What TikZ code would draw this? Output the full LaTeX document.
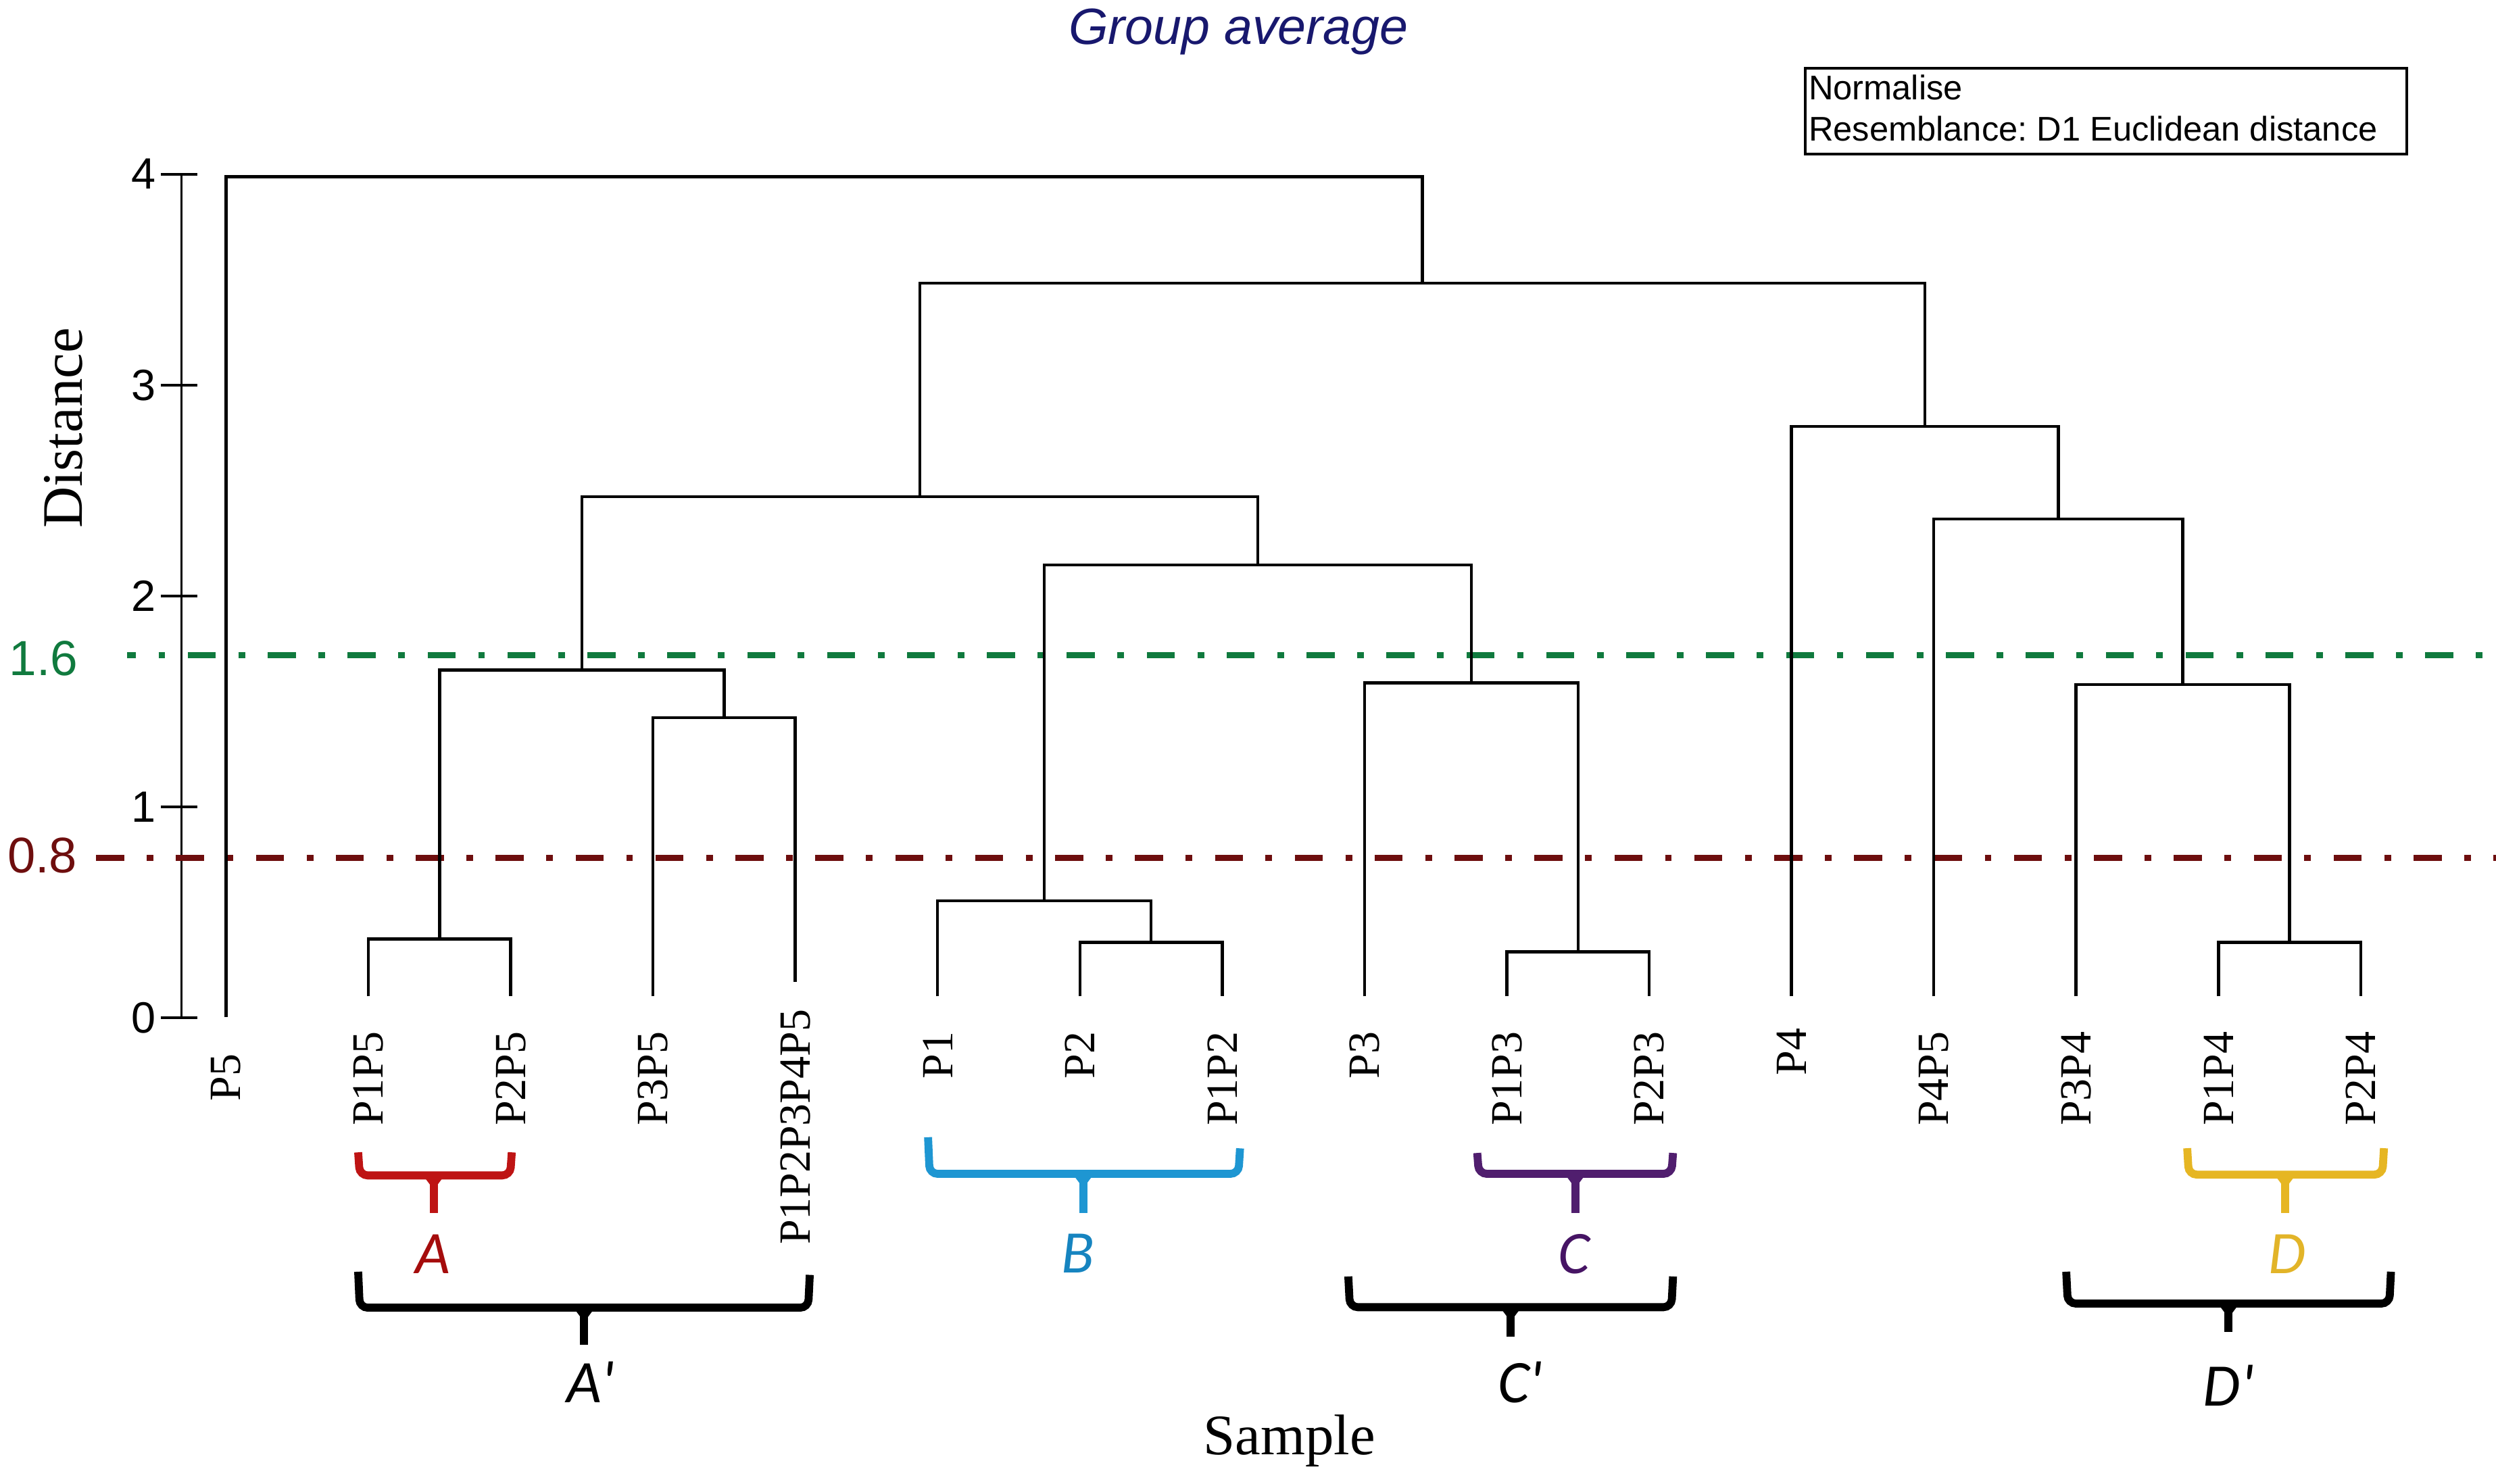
\documentclass[tikz,border=0pt]{standalone}
\usepackage{fontspec}
\setmainfont{Liberation Serif}
\newfontfamily\arialf{Liberation Sans}
\newfontfamily\calibf{Carlito}
\definecolor{navyt}{RGB}{24,24,110}
\definecolor{greenl}{RGB}{16,122,62}
\definecolor{maroonl}{RGB}{110,14,14}
\definecolor{bra}{RGB}{190,20,20}
\definecolor{brb}{RGB}{30,150,210}
\definecolor{brc}{RGB}{80,30,110}
\definecolor{brd}{RGB}{230,182,35}
\definecolor{laba}{RGB}{165,12,12}
\definecolor{labb}{RGB}{22,132,192}
\definecolor{labc}{RGB}{70,20,100}
\definecolor{labd}{RGB}{226,180,40}
\frenchspacing
\newcommand{\mybrace}[8]{%
  \draw[brace,#8,rounded corners=5pt] (#1,#2) -- (#1+1,#6) -- (#3-1,#6) -- (#3,#4);
  \draw[brace,#8] (#5,#6) -- (#5,#7);
  \fill[#8] (#5-6,#6+1) -- (#5+6,#6+1) -- (#5,#6+9) -- cycle;%
}
\begin{document}
\begin{tikzpicture}[x=1pt,y=-1pt,
  dend/.style={line width=1.9pt},
  axisl/.style={line width=1.6pt},
  brace/.style={line width=5pt},
  ticklab/.style={anchor=east,inner sep=0pt,font=\arialf\fontsize{27.5}{27.5}\selectfont},
  leaflab/.style={rotate=90,anchor=east,inner sep=0pt,font=\fontsize{28}{28}\selectfont},
  grplab/.style={inner sep=0pt,font=\calibf\itshape\fontsize{38}{38}\selectfont},
  thr/.style={line width=4pt,dash pattern=on 17.6pt off 14.2pt on 4.2pt off 14.2pt}]
\useasboundingbox (0,0) rectangle (1568,932);
% title
\node[font=\arialf\itshape\fontsize{32}{32}\selectfont,text=navyt] (title) at (778,20) {Group average};
% legend
\node[draw,line width=1.8pt,anchor=north west,inner sep=0pt,minimum width=378pt,minimum height=54pt] (legend) at (1133,42) {};
\node[anchor=west,inner sep=0pt,font=\arialf\fontsize{21.5}{21.5}\selectfont] (norm) at (1136,55) {Normalise};
\node[anchor=west,inner sep=0pt,font=\arialf\fontsize{21.5}{21.5}\selectfont] (resem) at (1136,81) {Resemblance: D1 Euclidean distance};
% axis
\coordinate (ax4) at (114,109.4);
\coordinate (ax0) at (114,639.4);
\draw[axisl] (ax4) -- (ax0);
\foreach \v in {0,...,4}{
  \pgfmathsetmacro\yy{639.4-132.5*\v}
  \draw[axisl] (101,\yy) -- (124,\yy);
  \node[ticklab] (tick\v) at (98,\yy) {\v};
}
\node[rotate=90,inner sep=0pt,font=\fontsize{36}{36}\selectfont] (ylab) at (40,269) {Distance};
\node[anchor=base,inner sep=0pt,font=\fontsize{36}{36}\selectfont] (xlab) at (810,914) {Sample};
% thresholds
\coordinate (g0) at (80,411.7);
\coordinate (g1) at (1568,411.7);
\coordinate (r0) at (60.4,539);
\coordinate (r1) at (1568,539);
\draw[thr,greenl,dash phase=12.2pt] (g0) -- (g1);
\draw[thr,maroonl] (r0) -- (r1);
\node[anchor=west,inner sep=0pt,text=greenl,font=\arialf\fontsize{31}{31}\selectfont] (t16) at (5.5,413.6) {1.6};
\node[anchor=west,inner sep=0pt,text=maroonl,font=\arialf\fontsize{31.5}{31.5}\selectfont] (t08) at (4.5,537.7) {0.8};
% leaves
\coordinate (L0) at (142,639);
\coordinate (L1) at (231.4,626);
\coordinate (L2) at (320.8,626);
\coordinate (L3) at (410.2,626);
\coordinate (L4) at (499.6,617);
\coordinate (L5) at (589,626);
\coordinate (L6) at (678.4,626);
\coordinate (L7) at (767.8,626);
\coordinate (L8) at (857.2,626);
\coordinate (L9) at (946.6,626);
\coordinate (L10) at (1036,626);
\coordinate (L11) at (1125.4,626);
\coordinate (L12) at (1214.8,626);
\coordinate (L13) at (1304.2,626);
\coordinate (L14) at (1393.6,626);
\coordinate (L15) at (1483,626);
% merges
\coordinate (m1) at (276.1,590);
\coordinate (m2) at (454.9,451);
\coordinate (m3) at (365.5,421);
\coordinate (m4) at (723.1,592);
\coordinate (m5) at (656.05,566);
\coordinate (m6) at (991.3,598);
\coordinate (m7) at (924.25,429);
\coordinate (m8) at (790.15,355);
\coordinate (m9) at (577.8,312);
\coordinate (m10) at (1438.3,592);
\coordinate (m11) at (1371.25,430);
\coordinate (m12) at (1293.0,326);
\coordinate (m13) at (1209.2,268);
\coordinate (m14) at (893.5,178);
\coordinate (m15) at (517.75,111);
\draw[dend] (L1) |- (m1) -| (L2);
\draw[dend] (L3) |- (m2) -| (L4);
\draw[dend] (m1) |- (m3) -| (m2);
\draw[dend] (L6) |- (m4) -| (L7);
\draw[dend] (L5) |- (m5) -| (m4);
\draw[dend] (L9) |- (m6) -| (L10);
\draw[dend] (L8) |- (m7) -| (m6);
\draw[dend] (m5) |- (m8) -| (m7);
\draw[dend] (m3) |- (m9) -| (m8);
\draw[dend] (L14) |- (m10) -| (L15);
\draw[dend] (L13) |- (m11) -| (m10);
\draw[dend] (L12) |- (m12) -| (m11);
\draw[dend] (L11) |- (m13) -| (m12);
\draw[dend] (m9) |- (m14) -| (m13);
\draw[dend] (L0) |- (m15) -| (m14);
% leaf labels
\node[leaflab] (lab0) at (142,662) {P5};
\node[leaflab] (lab1) at (231.4,648) {P1P5};
\node[leaflab] (lab2) at (320.8,648) {P2P5};
\node[leaflab] (lab3) at (410.2,648) {P3P5};
\node[leaflab] (lab4) at (499.6,634) {P1P2P3P4P5};
\node[leaflab] (lab5) at (589,648) {P1};
\node[leaflab] (lab6) at (678.4,648) {P2};
\node[leaflab] (lab7) at (767.8,648) {P1P2};
\node[leaflab] (lab8) at (857.2,648) {P3};
\node[leaflab] (lab9) at (946.6,648) {P1P3};
\node[leaflab] (lab10) at (1036,648) {P2P3};
\node[leaflab] (lab11) at (1125.4,646) {P4};
\node[leaflab] (lab12) at (1214.8,648) {P4P5};
\node[leaflab] (lab13) at (1304.2,648) {P3P4};
\node[leaflab] (lab14) at (1393.6,648) {P1P4};
\node[leaflab] (lab15) at (1483,648) {P2P4};
% brackets
\mybrace{225}{724}{321.5}{724}{272.5}{738.5}{762}{bra}
\mybrace{583}{714.5}{779}{721.5}{680.5}{737.5}{762}{brb}
\mybrace{928}{724.4}{1051}{724.4}{989.6}{737.5}{762}{brc}
\mybrace{1374}{721.4}{1497.6}{721.4}{1435.5}{738}{762}{brd}
\mybrace{225}{799}{508.7}{801}{367}{821.6}{845}{black}
\mybrace{847}{802}{1051}{802}{949}{821.3}{840}{black}
\mybrace{1298}{799}{1502}{799}{1400}{819}{837}{black}
\node[grplab,text=laba] (gA) at (272,788) {A};
\node[grplab,text=labb] (gB) at (677,787.5) {B};
\node[grplab,text=labc] (gC) at (989,788) {C};
\node[grplab,text=labd] (gD) at (1437,788) {D};
\node[grplab] (gA2) at (371,868.6) {A'};
\node[grplab] (gC2) at (955,868.6) {C'};
\node[grplab] (gD2) at (1400,870.5) {D'};
\end{tikzpicture}
\end{document}
